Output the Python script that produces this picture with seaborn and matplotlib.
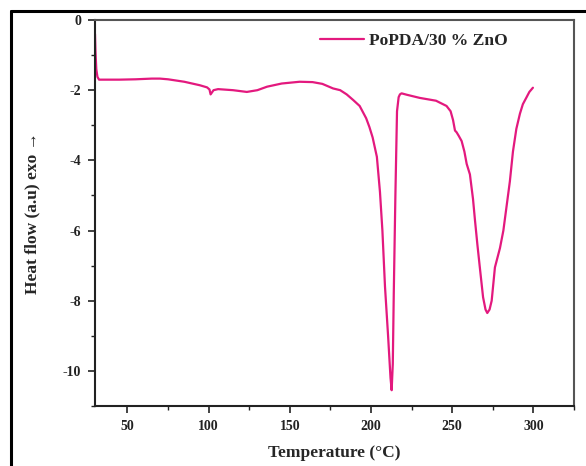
import numpy as np
import pandas as pd
import matplotlib
matplotlib.use("Agg")
import matplotlib.pyplot as plt
from matplotlib.ticker import MultipleLocator
from matplotlib.lines import Line2D
import seaborn as sns

temperature = [30.0, 30.3, 30.8, 31.5, 32.5, 35, 45, 55, 65, 70, 75, 85, 94.6, 99,
               100.5, 101.2, 103, 105.8, 115, 123.5, 130, 136, 145, 156, 164, 170,
               176.6, 181, 185, 189, 193, 197, 199, 201, 203.6, 205.5, 207, 208.6,
               210.5, 212, 212.7, 213.4, 214, 215, 216, 217, 217.8, 218.8, 222, 230,
               240, 246.5, 249, 250.5, 251.7, 252.7, 254, 255.8, 257.5, 258.9, 260.9,
               262.8, 264, 265.5, 267, 269, 270.5, 271.6, 273, 274.3, 276.3, 279.4,
               281.5, 283.5, 285.5, 287.4, 289.5, 291.7, 293.5, 295.8, 297.5, 299.7]
heat_flow = [-0.4, -0.9, -1.4, -1.62, -1.70, -1.70, -1.70, -1.69, -1.67, -1.67, -1.69,
             -1.76, -1.86, -1.92, -1.98, -2.12, -2.0, -1.97, -2.0, -2.05, -2.0, -1.9,
             -1.81, -1.76, -1.77, -1.82, -1.95, -2.0, -2.12, -2.28, -2.45, -2.8, -3.05,
             -3.35, -3.9, -4.9, -6.0, -7.6, -9.0, -10.2, -10.55, -9.8, -7.8, -5.0,
             -2.6, -2.2, -2.12, -2.09, -2.13, -2.22, -2.3, -2.45, -2.6, -2.85, -3.15,
             -3.2, -3.3, -3.45, -3.75, -4.1, -4.4, -5.1, -5.7, -6.4, -7.05, -7.9,
             -8.25, -8.35, -8.25, -8.0, -7.05, -6.5, -6.0, -5.3, -4.6, -3.75, -3.1,
             -2.67, -2.4, -2.2, -2.05, -1.93]
series_label = "PoPDA/30 % ZnO"
x_ticks = [50, 100, 150, 200, 250, 300]
y_ticks = [0, -2, -4, -6, -8, -10]

sns.set_style("white")
plt.rcParams['font.family'] = ['Liberation Serif', 'DejaVu Serif']
plt.rcParams['font.weight'] = 'bold'
plt.rcParams['axes.unicode_minus'] = False

df = pd.DataFrame({"Temperature": temperature, "HeatFlow": heat_flow})

W, H = 586, 466
fig = plt.figure(figsize=(W / 100, H / 100), dpi=100)
ax = fig.add_axes([95 / W, (H - 406) / H, (574 - 95) / W, (406 - 20) / H])

color = "#E3197E"
sns.lineplot(data=df, x="Temperature", y="HeatFlow", sort=False, ax=ax,
             color=color, linewidth=1.6, label=series_label)

ax.set_xlim(30, 325)
ax.set_ylim(-11, 0)
ax.set_xticks(x_ticks)
ax.set_yticks(y_ticks)
ax.xaxis.set_minor_locator(MultipleLocator(25))
ax.yaxis.set_minor_locator(MultipleLocator(1))
ax.tick_params(which='major', direction='out', length=5, width=1.2, colors='#222',
               labelsize=10, pad=5, bottom=True, left=True)
ax.tick_params(which='minor', direction='out', length=3, width=1.0, colors='#222',
               bottom=True, left=True)
for lab in ax.get_xticklabels() + ax.get_yticklabels():
    lab.set_fontweight('bold')

for side in ['left', 'bottom']:
    ax.spines[side].set_color('#222')
    ax.spines[side].set_linewidth(1.5)
for side in ['top', 'right']:
    ax.spines[side].set_color('#555')
    ax.spines[side].set_linewidth(1.5)

ax.set_xlabel("Temperature (°C)", fontsize=12.5, fontweight='bold', labelpad=9)
ax.set_ylabel("Heat flow (a.u) exo →", fontsize=12.5, fontweight='bold', labelpad=16,
              family=['Liberation Serif', 'DejaVu Serif'])

leg = ax.legend(loc='center left', bbox_to_anchor=((320 - 95) / 479, (406 - 41) / 386),
                frameon=False, borderpad=0, borderaxespad=0, handlelength=2.5,
                handletextpad=0.3, prop={'weight': 'bold', 'size': 12.6})

# outer border (top and left visible)
fig.add_artist(Line2D([11 / W, 1.0], [1 - 11 / H, 1 - 11 / H], color='black',
                      linewidth=2.2, transform=fig.transFigure))
fig.add_artist(Line2D([11 / W, 11 / W], [1 - 11 / H, 0.0], color='black',
                      linewidth=2.2, transform=fig.transFigure))

fig.savefig("out.png", dpi=100)
